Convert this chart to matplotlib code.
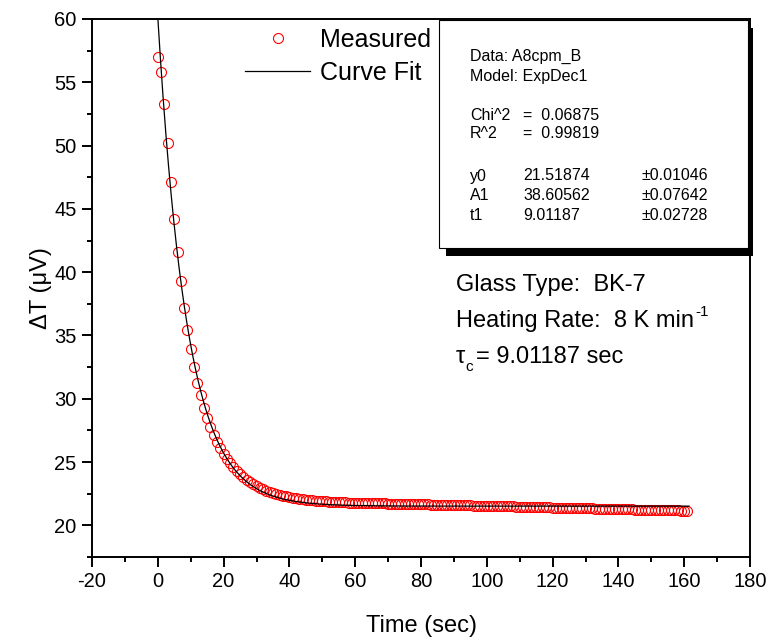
import numpy as np
import matplotlib.pyplot as plt
from matplotlib.patches import Rectangle

plt.rcParams['font.family'] = ['Liberation Sans', 'DejaVu Sans']
plt.rcParams['axes.unicode_minus'] = False

time = [0, 1, 2, 3, 4, 5, 6, 7, 8, 9,
        10, 11, 12, 13, 14, 15, 16, 17, 18, 19,
        20, 21, 22, 23, 24, 25, 26, 27, 28, 29,
        30, 31, 32, 33, 34, 35, 36, 37, 38, 39,
        40, 41, 42, 43, 44, 45, 46, 47, 48, 49,
        50, 51, 52, 53, 54, 55, 56, 57, 58, 59,
        60, 61, 62, 63, 64, 65, 66, 67, 68, 69,
        70, 71, 72, 73, 74, 75, 76, 77, 78, 79,
        80, 81, 82, 83, 84, 85, 86, 87, 88, 89,
        90, 91, 92, 93, 94, 95, 96, 97, 98, 99,
        100, 101, 102, 103, 104, 105, 106, 107, 108, 109,
        110, 111, 112, 113, 114, 115, 116, 117, 118, 119,
        120, 121, 122, 123, 124, 125, 126, 127, 128, 129,
        130, 131, 132, 133, 134, 135, 136, 137, 138, 139,
        140, 141, 142, 143, 144, 145, 146, 147, 148, 149,
        150, 151, 152, 153, 154, 155, 156, 157, 158, 159,
        160, 161]
dT = [56.97, 55.78, 53.27, 50.20, 47.09, 44.20, 41.57, 39.27, 37.20, 35.45,
      33.90, 32.50, 31.27, 30.27, 29.29, 28.45, 27.76, 27.15, 26.60, 26.10,
      25.66, 25.27, 24.92, 24.60, 24.31, 24.05, 23.82, 23.61, 23.42, 23.25,
      23.10, 22.97, 22.85, 22.74, 22.64, 22.55, 22.47, 22.40, 22.34, 22.28,
      22.23, 22.18, 22.14, 22.10, 22.06, 22.03, 22.00, 21.97, 21.95, 21.93,
      21.91, 21.89, 21.87, 21.86, 21.84, 21.83, 21.82, 21.81, 21.80, 21.79,
      21.78, 21.77, 21.77, 21.76, 21.76, 21.75, 21.74, 21.74, 21.73, 21.73,
      21.72, 21.71, 21.71, 21.70, 21.70, 21.69, 21.68, 21.68, 21.67, 21.67,
      21.66, 21.65, 21.65, 21.64, 21.64, 21.63, 21.62, 21.62, 21.61, 21.61,
      21.60, 21.59, 21.59, 21.58, 21.57, 21.57, 21.56, 21.56, 21.55, 21.54,
      21.54, 21.53, 21.53, 21.52, 21.51, 21.51, 21.50, 21.50, 21.49, 21.48,
      21.48, 21.47, 21.46, 21.46, 21.45, 21.45, 21.44, 21.43, 21.43, 21.42,
      21.41, 21.41, 21.40, 21.40, 21.39, 21.38, 21.38, 21.37, 21.36, 21.36,
      21.35, 21.34, 21.34, 21.33, 21.33, 21.32, 21.31, 21.31, 21.30, 21.29,
      21.29, 21.28, 21.27, 21.27, 21.26, 21.25, 21.25, 21.24, 21.23, 21.23,
      21.22, 21.21, 21.21, 21.20, 21.20, 21.19, 21.19, 21.18, 21.18, 21.17,
      21.17, 21.16]

# ExpDec1 fit parameters as printed in the box
y0 = 21.51874
A1 = 38.60562
t1 = 9.01187

box_rows = [('y0', '21.51874', '\u00b10.01046'),
            ('A1', '38.60562', '\u00b10.07642'),
            ('t1', '9.01187', '\u00b10.02728')]

W, H = 769, 642
fig = plt.figure(figsize=(W / 100, H / 100), dpi=100)
ax = fig.add_axes([92 / W, 1 - 557 / H, 658 / W, 538 / H])

tfit = np.linspace(0, 161.5, 600)
yfit = y0 + A1 * np.exp(-tfit / t1)

ax.plot(time, dT, 'o', mfc='none', mec='red', ms=7.2, mew=0.8, label='Measured')
ax.plot(tfit, yfit, '-', color='black', lw=0.9, label='Curve Fit')

ax.set_xlim(-20, 180)
ax.set_ylim(17.5, 60)
ax.set_xticks(np.arange(-20, 181, 20))
ax.set_xticks(np.arange(-20, 181, 10), minor=True)
ax.set_yticks(np.arange(20, 61, 5))
ax.set_yticks(np.arange(17.5, 60.1, 2.5), minor=True)
ax.tick_params(which='major', direction='out', length=7, width=1.4, labelsize=14.5, pad=4)
ax.tick_params(which='minor', direction='out', length=3.5, width=1.4)
for s in ax.spines.values():
    s.set_linewidth(1.4)

ax.set_xlabel('Time (sec)', fontsize=17, labelpad=17)
ax.set_ylabel('\u0394T (\u03bcV)', fontsize=17, labelpad=2)

ax.legend(loc='upper left', bbox_to_anchor=((245 - 92) / 658, (557 - 28) / 538),
          frameon=False, fontsize=18, handlelength=2.6, handletextpad=0.4,
          labelspacing=0.35, borderpad=0, borderaxespad=0)

# stats box with shadow, pixel coords converted to axes fractions
def ax_x(px):
    return (px - 92) / 658

def ax_y(py):
    return (557 - py) / 538

ax.add_patch(Rectangle((ax_x(446), ax_y(256)), ax_x(753) - ax_x(446), ax_y(28) - ax_y(256),
                       transform=ax.transAxes, facecolor='black', edgecolor='none',
                       clip_on=False, zorder=5))
ax.add_patch(Rectangle((ax_x(439), ax_y(248)), ax_x(748) - ax_x(439), ax_y(20) - ax_y(248),
                       transform=ax.transAxes, facecolor='white', edgecolor='black', lw=0.8,
                       clip_on=False, zorder=6))

def ftext(px, py, s, **kw):
    return fig.text(px / W, 1 - py / H, s, va='center', ha='left', zorder=10, **kw)

fs = 11.5
ftext(470, 56, 'Data: A8cpm_B', fontsize=fs)
ftext(470, 76, 'Model: ExpDec1', fontsize=fs)
ftext(470, 115, 'Chi^2', fontsize=fs)
ftext(523, 115, '=  0.06875', fontsize=fs)
ftext(470, 133, 'R^2', fontsize=fs)
ftext(523, 133, '=  0.99819', fontsize=fs)
for i, (name, val, err) in enumerate(box_rows):
    yy = 176 + i * 19.5
    ftext(470, yy, name, fontsize=fs)
    ftext(523, yy, val, fontsize=fs)
    ftext(641, yy, err, fontsize=fs)

renderer = fig.canvas.get_renderer()

ftext(456, 285, 'Glass Type:  BK-7', fontsize=17)
t_hr = ftext(456, 321, 'Heating Rate:  8 K min', fontsize=17)
x_end = t_hr.get_window_extent(renderer).x1
ftext(x_end + 1, 312, '-1', fontsize=11)

t_tau = ftext(456, 357, '\u03c4', fontsize=17)
x_end = t_tau.get_window_extent(renderer).x1
ftext(x_end + 0.5, 367, 'c', fontsize=11)
ftext(x_end + 11, 357, '= 9.01187 sec', fontsize=17)

plt.savefig('out.png', dpi=100)
